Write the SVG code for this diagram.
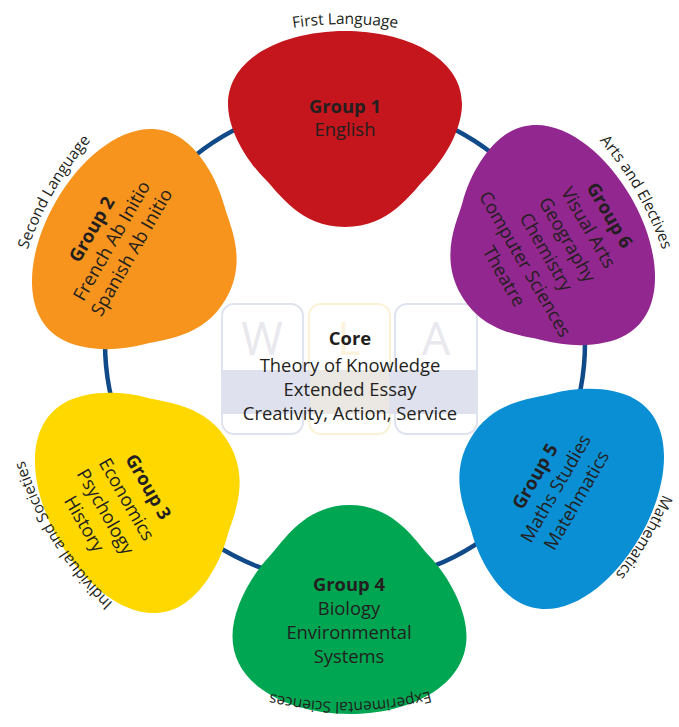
<svg xmlns="http://www.w3.org/2000/svg" xmlns:xlink="http://www.w3.org/1999/xlink" width="679" height="727" viewBox="0 0 679 727">
<style>
  text { font-family: "Open Sans", "Noto Sans", "Liberation Sans", sans-serif; fill: #231f20; }
  .t { font-size: 18.4px; text-anchor: middle; }
  .b { font-weight: bold; }
  .lbl { font-size: 15.5px; text-anchor: middle; }
  .big { font-size: 45px; text-anchor: middle; }
  .box { fill: #ffffff; stroke-width: 2; }
</style>
<defs>
  <path id="blob" d="M 0,-98 C 60,-98 117,-72 117,-25 C 117,0 100,30 80,50 C 66,64 45,98 0,98 C -45,98 -66,64 -80,50 C -100,30 -117,0 -117,-25 C -117,-72 -60,-98 0,-98 Z"/>
  <path id="arc" d="M 9,360 A 336,336 0 1,1 681,360 A 336,336 0 1,1 9,360"/>
  <path id="arcM" d="M 0,360 A 345,345 0 1,1 690,360 A 345,345 0 1,1 0,360"/>
  <path id="arcE" d="M 3,360 A 342,342 0 1,1 687,360 A 342,342 0 1,1 3,360"/>
</defs>
<rect width="679" height="727" fill="#ffffff"/>

<g id="connectors">
  <circle cx="345" cy="343" r="240" fill="none" stroke="#104a88" stroke-width="4.5"/>
</g>

<g id="core">
  <rect class="box" x="222" y="304" width="81" height="130" rx="12" stroke="#dfe2ef"/>
  <rect class="box" x="309" y="304" width="81" height="130" rx="12" stroke="#fbf1d6"/>
  <rect class="box" x="395" y="304" width="82" height="130" rx="12" stroke="#dfe2ef"/>
  <rect x="223" y="370" width="253" height="44" fill="#dfe2ee"/>
  <rect x="310" y="370" width="79" height="44" fill="#ebe7e2"/>
  <text class="big" x="262" y="355" style="fill:#e8e8ee">W</text>
  <text class="big" x="349" y="355" style="fill:#fbf3dc">L</text>
  <text class="big" x="436" y="355" style="fill:#e8e8ee">A</text>
  <text class="t b" x="350" y="345">Core</text>
  <text class="t" x="350" y="372">Theory of Knowledge</text>
  <text class="t" x="350" y="396">Extended Essay</text>
  <text class="t" x="350" y="420">Creativity, Action, Service</text>
</g>

<g id="group1">
  <use xlink:href="#blob" href="#blob" fill="#c4161c" transform="translate(345,129)"/>
  <text class="t b" x="345" y="113">Group 1</text>
  <text class="t" x="345" y="136">English</text>
</g>

<g id="group2">
  <use xlink:href="#blob" href="#blob" fill="#f7941d" transform="translate(141,250) rotate(-60)"/>
  <g transform="translate(112,241) rotate(-60)">
    <text class="t b" x="0" y="-17">Group 2</text>
    <text class="t" x="0" y="6">French Ab Initio</text>
    <text class="t" x="0" y="29">Spanish Ab Initio</text>
  </g>
</g>

<g id="group3">
  <use xlink:href="#blob" href="#blob" fill="#ffd800" transform="translate(144,492) rotate(-120)"/>
  <g transform="translate(116,505.5) rotate(60)">
    <text class="t b" x="0" y="-31">Group 3</text>
    <text class="t" x="0" y="-6">Economics</text>
    <text class="t" x="0" y="18.5">Psychology</text>
    <text class="t" x="0" y="43">History</text>
  </g>
</g>

<g id="group4">
  <use xlink:href="#blob" href="#blob" fill="#00a651" transform="translate(349.5,609.5) rotate(180) scale(1,1.066)"/>
  <text class="t b" x="349" y="591">Group 4</text>
  <text class="t" x="349" y="615">Biology</text>
  <text class="t" x="349" y="639">Environmental</text>
  <text class="t" x="349" y="663">Systems</text>
</g>

<g id="group5">
  <use xlink:href="#blob" href="#blob" fill="#0a8fd5" transform="translate(555,488) rotate(120)"/>
  <g transform="translate(556,488.5) rotate(-60)">
    <text class="t b" x="0" y="-18">Group 5</text>
    <text class="t" x="0" y="6">Maths Studies</text>
    <text class="t" x="0" y="30">Matehmatics</text>
  </g>
</g>

<g id="group6">
  <use xlink:href="#blob" href="#blob" fill="#92278f" transform="translate(546,246) rotate(60)"/>
  <g transform="translate(556.5,246) rotate(60)">
    <text class="t b" x="0" y="-55">Group 6</text>
    <text class="t" x="0" y="-30.6">Visual Arts</text>
    <text class="t" x="0" y="-6.2">Geography</text>
    <text class="t" x="0" y="18.2">Chemistry</text>
    <text class="t" x="0" y="42.6">Computer Sciences</text>
    <text class="t" x="0" y="67">Theatre</text>
  </g>
</g>

<g id="labels">
  <text class="lbl"><textPath xlink:href="#arc" href="#arc" startOffset="527.8">First Language</textPath></text>
  <text class="lbl"><textPath xlink:href="#arc" href="#arc" startOffset="879.6">Arts and Electives</textPath></text>
  <text class="lbl"><textPath xlink:href="#arcM" href="#arcM" startOffset="1268.1">Mathematics</textPath></text>
  <text class="lbl"><textPath xlink:href="#arcE" href="#arcE" startOffset="1605.7">Experimental Sciences</textPath></text>
  <text class="lbl"><textPath xlink:href="#arc" href="#arc" startOffset="1923.5">Individual and Societies</textPath></text>
  <text class="lbl"><textPath xlink:href="#arc" href="#arc" startOffset="175.9">Second Language</textPath></text>
</g>
</svg>
